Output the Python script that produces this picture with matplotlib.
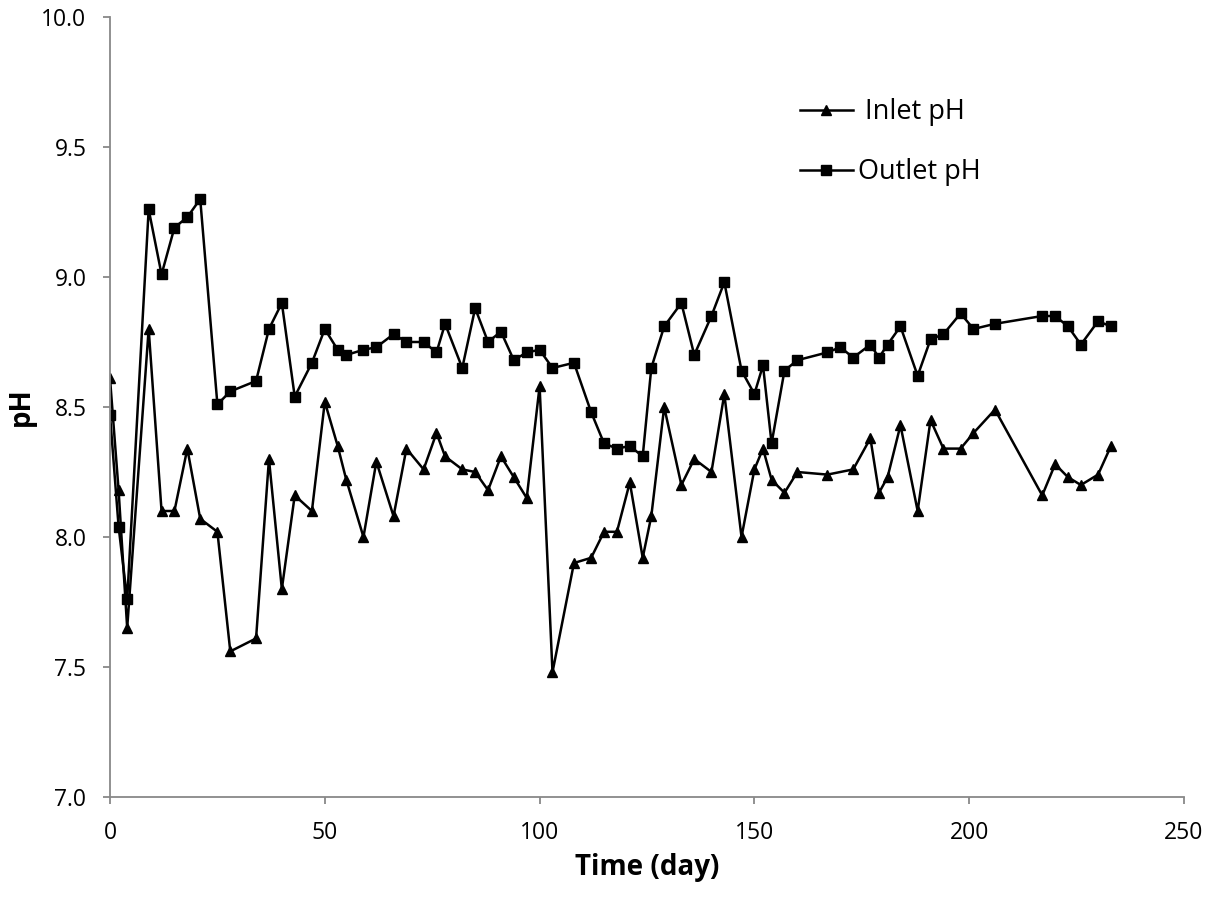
import matplotlib
matplotlib.use("Agg")
import matplotlib.pyplot as plt

# Inlet pH readings
inlet_day = [0, 2, 4, 9, 12, 15, 18, 21, 25, 28, 34, 37, 40, 43, 47, 50, 53, 55, 59, 62,
             66, 69, 73, 76, 78, 82, 85, 88, 91, 94, 97, 100, 103, 108, 112, 115, 118, 121,
             124, 126, 129, 133, 136, 140, 143, 147, 150, 152, 154, 157, 160, 167, 173, 177,
             179, 181, 184, 188, 191, 194, 198, 201, 206, 217, 220, 223, 226, 230, 233]
inlet_ph = [8.61, 8.18, 7.65, 8.80, 8.10, 8.10, 8.34, 8.07, 8.02, 7.56, 7.61, 8.30, 7.80, 8.16,
            8.10, 8.52, 8.35, 8.22, 8.00, 8.29, 8.08, 8.34, 8.26, 8.40, 8.31, 8.26, 8.25, 8.18,
            8.31, 8.23, 8.15, 8.58, 7.48, 7.90, 7.92, 8.02, 8.02, 8.21, 7.92, 8.08, 8.50, 8.20,
            8.30, 8.25, 8.55, 8.00, 8.26, 8.34, 8.22, 8.17, 8.25, 8.24, 8.26, 8.38, 8.17, 8.23,
            8.43, 8.10, 8.45, 8.34, 8.34, 8.40, 8.49, 8.16, 8.28, 8.23, 8.20, 8.24, 8.35]

# Outlet pH readings
outlet_day = [0, 2, 4, 9, 12, 15, 18, 21, 25, 28, 34, 37, 40, 43, 47, 50, 53, 55, 59, 62,
              66, 69, 73, 76, 78, 82, 85, 88, 91, 94, 97, 100, 103, 108, 112, 115, 118, 121,
              124, 126, 129, 133, 136, 140, 143, 147, 150, 152, 154, 157, 160, 167, 170, 173,
              177, 179, 181, 184, 188, 191, 194, 198, 201, 206, 217, 220, 223, 226, 230, 233]
outlet_ph = [8.47, 8.04, 7.76, 9.26, 9.01, 9.19, 9.23, 9.30, 8.51, 8.56, 8.60, 8.80, 8.90, 8.54,
             8.67, 8.80, 8.72, 8.70, 8.72, 8.73, 8.78, 8.75, 8.75, 8.71, 8.82, 8.65, 8.88, 8.75,
             8.79, 8.68, 8.71, 8.72, 8.65, 8.67, 8.48, 8.36, 8.34, 8.35, 8.31, 8.65, 8.81, 8.90,
             8.70, 8.85, 8.98, 8.64, 8.55, 8.66, 8.36, 8.64, 8.68, 8.71, 8.73, 8.69, 8.74, 8.69,
             8.74, 8.81, 8.62, 8.76, 8.78, 8.86, 8.80, 8.82, 8.85, 8.85, 8.81, 8.74, 8.83, 8.81]

plt.rcParams['font.family'] = ['Open Sans', 'DejaVu Sans']

fig = plt.figure(figsize=(12.25, 9.09), dpi=100)
ax = fig.add_axes([110 / 1225, 1 - 797 / 909, (1184 - 110) / 1225, (797 - 17) / 909])

ax.plot(inlet_day, inlet_ph, color='black', lw=1.8, marker='^', ms=7.5, label=' Inlet pH')
ax.plot(outlet_day, outlet_ph, color='black', lw=1.8, marker='s', ms=6.8, label='Outlet pH')

ax.set_xlim(0, 250)
ax.set_ylim(7.0, 10.0)
ax.set_xticks(range(0, 251, 50))
ax.set_yticks([7.0, 7.5, 8.0, 8.5, 9.0, 9.5, 10.0])
ax.set_yticklabels([f"{v:.1f}" for v in ax.get_yticks()])

for side in ('top', 'right'):
    ax.spines[side].set_visible(False)
for side in ('left', 'bottom'):
    ax.spines[side].set_color('#888888')
    ax.spines[side].set_linewidth(1.3)
ax.tick_params(direction='out', length=5, width=1.3, color='#888888', labelsize=16.5, pad=12)

ax.set_xlabel('Time (day)', fontsize=20, fontweight='bold', labelpad=6)
ax.set_ylabel('pH', fontsize=20, fontweight='bold', labelpad=4)

ax.legend(loc='upper left', bbox_to_anchor=((800 - 110) / 1074, 1 - (98 - 17) / 780),
          borderpad=0, borderaxespad=0, frameon=False, fontsize=19.5,
          handlelength=1.95, handletextpad=0.2, labelspacing=1.2)

fig.savefig('out.png', dpi=100)
